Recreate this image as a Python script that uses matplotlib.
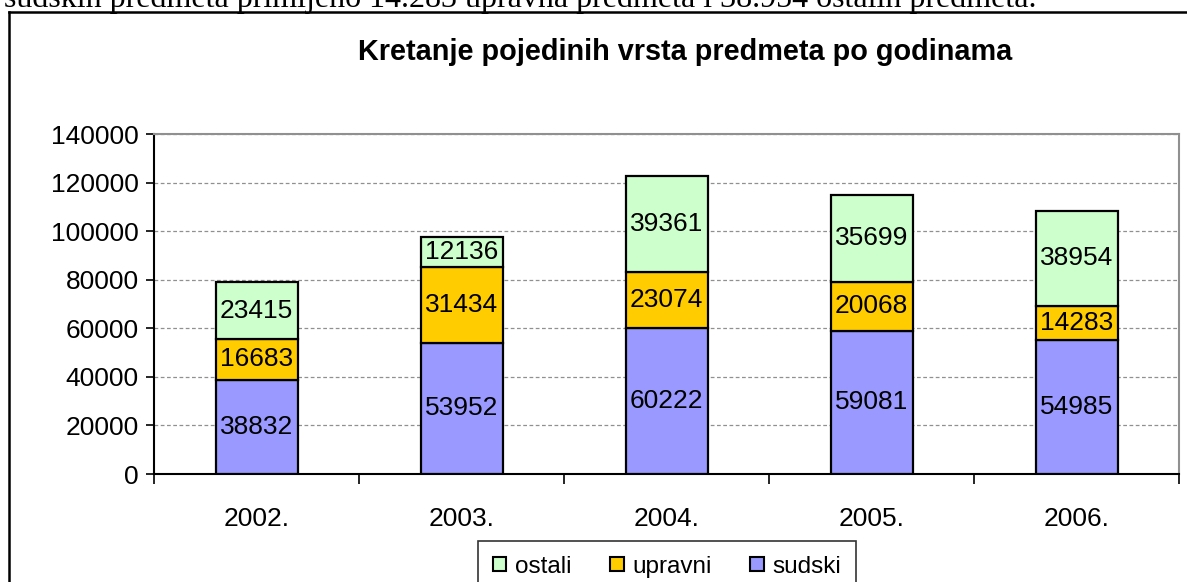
import numpy as np
import matplotlib
matplotlib.use('Agg')
import matplotlib.pyplot as plt
from matplotlib.lines import Line2D
from matplotlib.patches import Patch

plt.rcParams['font.family'] = ['Liberation Sans', 'DejaVu Sans']

# podaci
years = ['2002.', '2003.', '2004.', '2005.', '2006.']
sudski = [38832, 53952, 60222, 59081, 54985]
upravni = [16683, 31434, 23074, 20068, 14283]
ostali = [23415, 12136, 39361, 35699, 38954]
y_ticks = [0, 20000, 40000, 60000, 80000, 100000, 120000, 140000]

c_sud = '#9999FF'
c_upr = '#FFCC00'
c_ost = '#CCFFCC'

W, H = 1187, 582
fig = plt.figure(figsize=(W / 100, H / 100), dpi=100)
fig.patch.set_facecolor('white')

def px(x0, y0, x1, y1):
    # pixel box (top-left origin) -> figure fraction rect
    return [x0 / W, 1 - y1 / H, (x1 - x0) / W, (y1 - y0) / H]

# tekst dokumenta iznad grafikona (odrezan)
fig.text(4 / W, 1 - 7 / H,
         'sudskih predmeta primljeno 14.283 upravna predmeta i 38.954 ostalih predmeta.',
         family='Liberation Serif', fontsize=23, va='baseline', ha='left')

# okvir grafikona
fig.add_artist(Line2D([9 / W, 9 / W], [0, 1 - 12 / H], color='black', lw=1.8))
fig.add_artist(Line2D([9 / W, 1], [1 - 12 / H, 1 - 12 / H], color='black', lw=1.8))

ax = fig.add_axes(px(154, 134, 1179, 474))
x = np.arange(len(years))
bw = 0.4
b1 = ax.bar(x, sudski, bw, color=c_sud, edgecolor='black', lw=1.6, zorder=3)
b2 = ax.bar(x, upravni, bw, bottom=sudski, color=c_upr, edgecolor='black', lw=1.6, zorder=3)
bot3 = np.array(sudski) + np.array(upravni)
b3 = ax.bar(x, ostali, bw, bottom=bot3, color=c_ost, edgecolor='black', lw=1.6, zorder=3)
for b in (b1, b2, b3):
    ax.bar_label(b, label_type='center', fontsize=19, zorder=4)

ax.set_xlim(-0.5, len(years) - 0.5)
ax.set_ylim(0, 140000)
ax.set_yticks(y_ticks)
ax.set_yticklabels([str(v) for v in y_ticks], fontsize=19)
ax.set_xticks(x)
ax.set_xticklabels(years, fontsize=19)
ax.set_xticks(np.arange(len(years) + 1) - 0.5, minor=True)
ax.tick_params(axis='x', which='major', length=0, pad=23.5)
ax.tick_params(axis='x', which='minor', length=7, width=1.2, direction='out')
ax.tick_params(axis='y', length=6, width=1.2, direction='out', pad=5)
ax.yaxis.grid(True, linestyle=(0, (3, 2)), color='#909090', lw=0.9, zorder=0)
ax.set_axisbelow(True)
for s in ('left', 'bottom'):
    ax.spines[s].set_color('black')
    ax.spines[s].set_linewidth(1.5)
for s in ('top', 'right'):
    ax.spines[s].set_color('#909090')
    ax.spines[s].set_linewidth(1.5)

fig.text(685 / W, 1 - 52 / H, 'Kretanje pojedinih vrsta predmeta po godinama',
         fontsize=20.8, fontweight='bold', ha='center', va='center')

handles = [Patch(facecolor=c_ost, edgecolor='black', lw=1.5, label='ostali'),
           Patch(facecolor=c_upr, edgecolor='black', lw=1.5, label='upravni'),
           Patch(facecolor=c_sud, edgecolor='black', lw=1.5, label='sudski')]
leg = fig.legend(handles=handles, loc='upper center', ncol=3,
                 bbox_to_anchor=(667 / W, 1 - 541 / H), fontsize=17.5,
                 handlelength=0.55, handleheight=0.55, handletextpad=0.35,
                 columnspacing=1.6, fancybox=False, borderpad=0.6,
                 borderaxespad=0)
leg.get_frame().set_edgecolor('black')
leg.get_frame().set_linewidth(1.2)

fig.savefig('out.png', dpi=100)
